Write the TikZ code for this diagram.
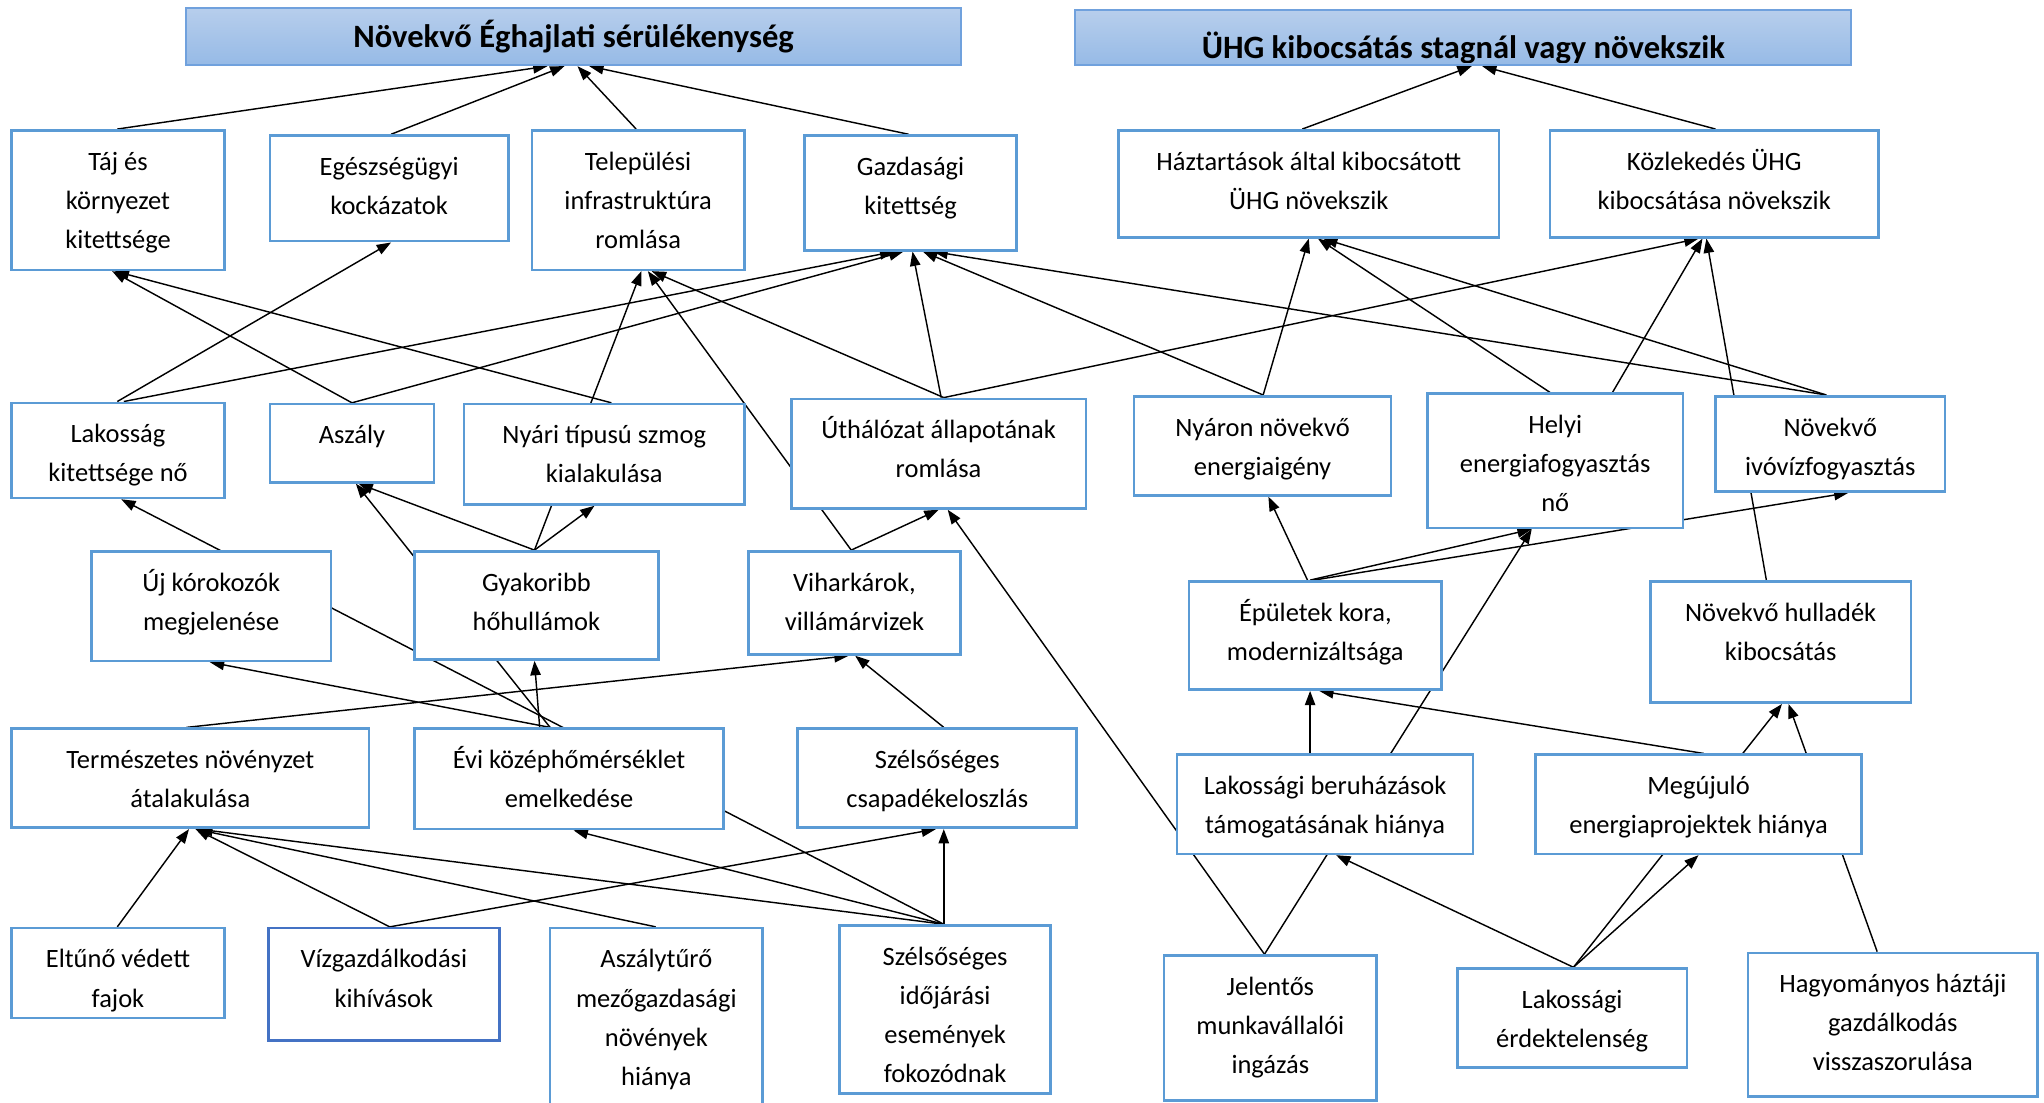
\documentclass[tikz,border=0pt]{standalone}
\usepackage{fontspec}
\setmainfont{Carlito}
\usetikzlibrary{arrows.meta,backgrounds}
\definecolor{boxblue}{RGB}{91,155,213}
\definecolor{boxdeep}{RGB}{68,114,196}
\definecolor{hdrtop}{RGB}{183,206,236}
\definecolor{hdrbottom}{RGB}{150,186,230}
\definecolor{hdrline}{RGB}{112,161,221}

\begin{document}
\begin{tikzpicture}[x=1pt, y=-1pt,
    box/.style={rectangle, draw=boxblue, line width=2pt, fill=white, inner sep=0pt},
    lbl/.style={anchor=north, align=center, inner sep=0pt, outer sep=0pt, yshift=-10.5pt,
      font=\fontsize{20.3}{30}\selectfont},
    hdr/.style={rectangle, draw=hdrline, line width=1.5pt, top color=hdrtop,
      bottom color=hdrbottom, inner sep=0pt},
    hdrtext/.style={anchor=base, font=\bfseries\fontsize{25}{30}\selectfont},
    cause/.style={-{Triangle[length=11pt,width=8pt]}, line width=1.1pt}]
  \useasboundingbox (0,0) rectangle (1568,846);

  % the two headings
  \node[hdr, minimum width=594pt, minimum height=44pt, path picture={
      \node[hdrtext] (vulnlabel) at ([yshift=-8.5pt]path picture bounding box.center)
        {Növekvő Éghajlati sérülékenység};}] (vuln) at (440,28) {};
  \node[hdr, minimum width=595pt, minimum height=42pt, path picture={
      \clip (path picture bounding box.north west) rectangle ([yshift=2.2pt]path picture bounding box.south east);
      \node[hdrtext] (ghglabel) at ([yshift=-15.5pt]path picture bounding box.center)
        {ÜHG kibocsátás stagnál vagy növekszik};}] (ghg) at (1122.5,29) {};

  % second row
  \node[box, minimum width=163pt, minimum height=107pt, label={[lbl]north:{\strut Táj és\\környezet\\kitettsége}}] (taj) at (90.5,153.5) {};
  \node[box, minimum width=183pt, minimum height=81pt, label={[lbl]north:{\strut Egészségügyi\\kockázatok}}] (egesz) at (298.5,144.5) {};
  \node[box, minimum width=163pt, minimum height=107pt, label={[lbl]north:{\strut Települési\\infrastruktúra\\romlása}}] (telep) at (489.5,153.5) {};
  \node[box, minimum width=163pt, minimum height=88pt, label={[lbl]north:{\strut Gazdasági\\kitettség}}] (gazd) at (698.5,148) {};
  \node[box, minimum width=292pt, minimum height=82pt, label={[lbl]north:{\strut Háztartások által kibocsátott\\ÜHG növekszik}}] (haztart) at (1004,141) {};
  \node[box, minimum width=252pt, minimum height=82pt, label={[lbl]north:{\strut Közlekedés ÜHG\\kibocsátása növekszik}}] (kozl) at (1315,141) {};

  % third row
  \node[box, minimum width=163pt, minimum height=73pt, label={[lbl]north:{\strut Lakosság\\kitettsége nő}}] (lak) at (90.5,345.5) {};
  \node[box, minimum width=126pt, minimum height=60pt, label={[lbl]north:{\strut Aszály}}] (aszaly) at (270,340) {};
  \node[box, minimum width=215pt, minimum height=77pt, label={[lbl]north:{\strut Nyári típusú szmog\\kialakulása}}] (szmog) at (463.5,348.5) {};
  \node[box, minimum width=226pt, minimum height=84pt, label={[lbl]north:{\strut Úthálózat állapotának\\romlása}}] (uth) at (720,348) {};
  \node[box, minimum width=197pt, minimum height=76pt, label={[lbl]north:{\strut Nyáron növekvő\\energiaigény}}] (nyaron) at (968.5,342) {};
  \node[box, minimum width=196pt, minimum height=103pt, label={[lbl]north:{\strut Helyi\\energiafogyasztás\\nő}}] (helyi) at (1193,353.5) {};
  \node[box, minimum width=176pt, minimum height=73pt, label={[lbl]north:{\strut Növekvő\\ivóvízfogyasztás}}] (ivoviz) at (1404,340.5) {};

  % fourth row
  \node[box, minimum width=184pt, minimum height=84pt, label={[lbl]north:{\strut Új kórokozók\\megjelenése}}] (ujkor) at (162,465) {};
  \node[box, minimum width=187pt, minimum height=83pt, label={[lbl]north:{\strut Gyakoribb\\hőhullámok}}] (hohull) at (411.5,464.5) {};
  \node[box, minimum width=163pt, minimum height=79pt, label={[lbl]north:{\strut Viharkárok,\\villámárvizek}}] (vihar) at (655.5,462.5) {};
  \node[box, minimum width=194pt, minimum height=83pt, label={[lbl]north:{\strut Épületek kora,\\modernizáltsága}}] (epulet) at (1009,487.5) {};
  \node[box, minimum width=200pt, minimum height=93pt, label={[lbl]north:{\strut Növekvő hulladék\\kibocsátás}}] (hullad) at (1366,492.5) {};

  % fifth row
  \node[box, minimum width=274pt, minimum height=76pt, label={[lbl]north:{\strut Természetes növényzet\\átalakulása}}] (termesz) at (146,597) {};
  \node[box, minimum width=237pt, minimum height=77pt, label={[lbl]north:{\strut Évi középhőmérséklet\\emelkedése}}] (evi) at (436.5,597.5) {};
  \node[box, minimum width=214pt, minimum height=76pt, label={[lbl]north:{\strut Szélsőséges\\csapadékeloszlás}}] (szelcsap) at (719,597) {};
  \node[box, minimum width=227pt, minimum height=76pt, label={[lbl]north:{\strut Lakossági beruházások\\támogatásának hiánya}}] (lakber) at (1016.5,617) {};
  \node[box, minimum width=250pt, minimum height=76pt, label={[lbl]north:{\strut Megújuló\\energiaprojektek hiánya}}] (megujulo) at (1303,617) {};

  % bottom row
  \node[box, minimum width=163pt, minimum height=69pt, label={[lbl]north:{\strut Eltűnő védett\\fajok}}] (eltuno) at (90.5,746.5) {};
  \node[box, draw=boxdeep, minimum width=177pt, minimum height=86pt, label={[lbl]north:{\strut Vízgazdálkodási\\kihívások}}] (vizgazd) at (294.5,755) {};
  \node[box, minimum width=163pt, minimum height=158pt, label={[lbl]north:{\strut Aszálytűrő\\mezőgazdasági\\növények\\hiánya}}] (aszalytur) at (503.5,791) {};
  \node[box, minimum width=162pt, minimum height=129pt, label={[lbl]north:{\strut Szélsőséges\\időjárási\\események\\fokozódnak}}] (szelido) at (725,774.5) {};
  \node[box, minimum width=163pt, minimum height=111pt, label={[lbl]north:{\strut Jelentős\\munkavállalói\\ingázás}}] (jelentos) at (974.5,788.5) {};
  \node[box, minimum width=176pt, minimum height=76pt, label={[lbl]north:{\strut Lakossági\\érdektelenség}}] (lakerd) at (1206,781) {};
  \node[box, minimum width=222pt, minimum height=110pt, label={[lbl]north:{\strut Hagyományos háztáji\\gazdálkodás\\visszaszorulása}}] (hagyom) at (1452,786) {};

  % connectors, behind the boxes
  \begin{pgfonlayer}{background}
    \draw[cause] ([xshift=-0.5pt]taj.north) -- ([xshift=-20pt]vuln.south);
    \draw[cause] ([xshift=1.5pt]egesz.north) -- ([xshift=-7pt]vuln.south);
    \draw[cause] ([xshift=-1.5pt]telep.north) -- ([xshift=3pt]vuln.south);
    \draw[cause] ([xshift=-1.5pt]gazd.north) -- ([xshift=12pt]vuln.south);
    \draw[cause] ([xshift=-5pt]haztart.north) -- ([xshift=6.5pt]ghg.south);
    \draw[cause] ([xshift=1pt]kozl.north) -- ([xshift=14.5pt]ghg.south);

    \draw[cause] ([xshift=-0.5pt]lak.north) -- ([xshift=1.5pt]egesz.south);
    \draw[cause] ([xshift=4.5pt]lak.north) -- ([xshift=-12.5pt]gazd.south);
    \draw[cause] (aszaly.north) -- ([xshift=-4.5pt]taj.south);
    \draw[cause] (aszaly.north) -- ([xshift=-5.5pt]gazd.south);
    \draw[cause] ([xshift=5.5pt]szmog.north) -- ([xshift=-2.5pt]taj.south);
    \draw[cause] ([xshift=-1.5pt]hohull.north) -- ([xshift=2.5pt]telep.south);
    \draw[cause] ([xshift=-2.5pt]vihar.north) -- ([xshift=7.5pt]telep.south);
    \draw[cause] ([xshift=4pt]uth.north) -- ([xshift=10.5pt]telep.south);
    \draw[cause] ([xshift=2pt]uth.north) -- ([xshift=1.5pt]gazd.south);
    \draw[cause] ([xshift=4pt]uth.north) -- ([xshift=-12pt]kozl.south);
    \draw[cause] ([xshift=0.5pt]nyaron.north) -- ([xshift=9.5pt]gazd.south);
    \draw[cause] ([xshift=0.5pt]nyaron.north) -- (haztart.south);
    \draw[cause] ([xshift=-4pt]helyi.north) -- ([xshift=7pt]haztart.south);
    \draw[cause] ([xshift=44pt]helyi.north) -- ([xshift=-9pt]kozl.south);
    \draw[cause] ([xshift=-3pt]ivoviz.north) -- ([xshift=17.5pt]gazd.south);
    \draw[cause] ([xshift=-3pt]ivoviz.north) -- ([xshift=11pt]haztart.south);
    \draw[cause] ([xshift=-11pt]hullad.north) -- ([xshift=-6pt]kozl.south);

    \draw[cause] ([xshift=-1.5pt]hohull.north) -- ([xshift=5pt]aszaly.south);
    \draw[cause] ([xshift=-1.5pt]hohull.north) -- ([xshift=-7.5pt]szmog.south);
    \draw[cause] ([xshift=-2.5pt]vihar.north) -- (uth.south);
    \draw[cause] ([xshift=-4.5pt]jelentos.north) -- ([xshift=7pt]uth.south);
    \draw[cause] ([xshift=-1pt]szelido.north) -- ([xshift=2.5pt]lak.south);
    \draw[cause] ([xshift=-6pt]epulet.north) -- ([xshift=4.5pt]nyaron.south);
    \draw[cause] ([xshift=-4pt]epulet.north) -- ([xshift=-18pt]helyi.south);
    \draw[cause] ([xshift=-1pt]epulet.north) -- ([xshift=14pt]ivoviz.south);
    \draw[cause] ([xshift=-4.5pt]jelentos.north) -- ([xshift=-18pt]helyi.south);

    \draw[cause] ([xshift=-3pt]termesz.north) -- ([xshift=-4.5pt]vihar.south);
    \draw[cause] ([xshift=5pt]szelcsap.north) -- ([xshift=0.5pt]vihar.south);
    \draw[cause] ([xshift=-14.5pt]evi.north) -- ([xshift=-1pt]ujkor.south);
    \draw[cause] ([xshift=-22.5pt]evi.north) -- ([xshift=-1.5pt]hohull.south);
    \draw[cause] ([xshift=-14.5pt]evi.north) -- ([xshift=3pt]aszaly.south);
    \draw[cause] ([xshift=-11.5pt]lakber.north) -- ([xshift=-4pt]epulet.south);
    \draw[cause] ([xshift=4pt]megujulo.north) -- ([xshift=3pt]epulet.south);
    \draw[cause] ([xshift=1pt]lakerd.north) -- ([xshift=1pt]hullad.south);
    \draw[cause] ([xshift=-12pt]hagyom.north) -- ([xshift=6pt]hullad.south);

    \draw[cause] ([xshift=-0.5pt]eltuno.north) -- ([xshift=-1pt]termesz.south);
    \draw[cause] ([xshift=4.5pt]vizgazd.north) -- ([xshift=4pt]termesz.south);
    \draw[cause] ([xshift=4.5pt]vizgazd.north) -- ([xshift=-1pt]szelcsap.south);
    \draw[cause] ([xshift=-0.5pt]aszalytur.north) -- ([xshift=4pt]termesz.south);
    \draw[cause] ([xshift=-1pt]szelido.north) -- ([xshift=6pt]termesz.south);
    \draw[cause] ([xshift=-1pt]szelido.north) -- ([xshift=3.5pt]evi.south);
    \draw[cause] ([xshift=-1pt]szelido.north) -- ([xshift=5pt]szelcsap.south);
    \draw[cause] ([xshift=1pt]lakerd.north) -- ([xshift=8.5pt]lakber.south);
    \draw[cause] ([xshift=1pt]lakerd.north) -- (megujulo.south);
  \end{pgfonlayer}
\end{tikzpicture}
\end{document}
